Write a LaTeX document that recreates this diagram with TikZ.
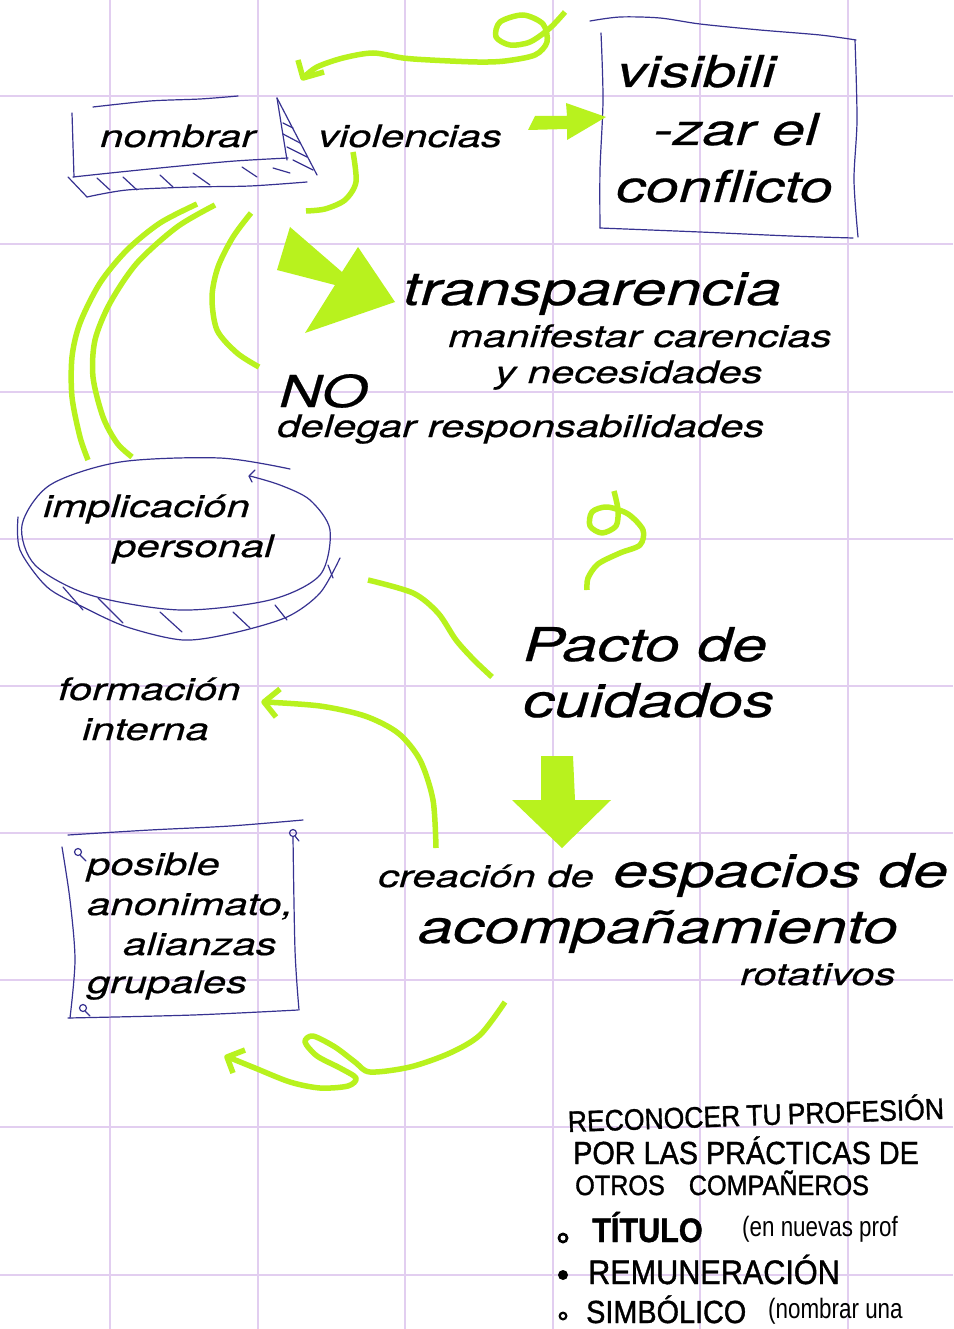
\documentclass[tikz,border=0pt]{standalone}
\usepackage{fontspec}
\newfontfamily\hv{TeX Gyre Heros}[FakeStretch=1.35, FakeBold=0.5]
\newfontfamily\hand{Liberation Sans}[FakeStretch=0.9, FakeBold=1.2]
\newfontfamily\handthin{Liberation Sans}[FakeStretch=0.8]
\definecolor{gridc}{RGB}{226,206,240}
\definecolor{limec}{RGB}{184,242,30}
\definecolor{penc}{RGB}{55,50,145}
\tikzset{
  gridline/.style={draw=gridc, line width=2pt},
  pen/.style={draw=penc, line width=1.2pt, line cap=round, line join=round},
  limeline/.style={draw=limec, line width=5.5pt, line cap=butt, line join=round},
  limefill/.style={fill=limec, draw=none},
  txt/.style={inner sep=0pt, anchor=base west, text=black, font=\hv\itshape\fontsize{31}{36}\selectfont},
  bigtxt/.style={txt, font=\hv\itshape\fontsize{46.5}{54}\selectfont},
  vistxt/.style={txt, font=\hv\itshape\fontsize{44}{52}\selectfont},
  hw/.style={inner sep=0pt, anchor=base west, text=black, font=\hand\fontsize{32}{36}\selectfont},
  hwsmall/.style={hw, font=\handthin\fontsize{28}{32}\selectfont},
}
\begin{document}
\begin{tikzpicture}[x=1pt, y=-1pt]
\useasboundingbox (0,0) rectangle (953,1329);
\fill[white] (0,0) rectangle (953,1329);
% grid
\foreach \gx in {110,257.5,405,552.5,700,847.5} \draw[gridline] (\gx,0) -- (\gx,1329);
\foreach \gy in {96.5,244,391.5,538.5,685.5,833,980,1127,1274.5} \draw[gridline] (0,\gy) -- (953,\gy);

% ---------- pen sketches ----------
% nombrar box
\draw[pen] plot[smooth] coordinates {(93,107) (150,101) (200,99) (238,96)};
\draw[pen] (72,113) -- (74,177);
\draw[pen] plot[smooth] coordinates {(73,177) (120,172) (180,166) (235,161) (288,158)};
\draw[pen] (277,98) -- (287,160);
\draw[pen] (277,98) -- (317,175);
\draw[pen] (283,123) -- (293,128) (283,134) -- (300,143) (287,147) -- (307,157) (293,160) -- (313,170);
\draw[pen] (68,177) -- (87,197);
\draw[pen] plot[smooth] coordinates {(87,197) (127,190) (193,187) (250,186) (307,182)};
\draw[pen] (97,178) -- (110,190) (123,177) -- (137,190) (160,175) -- (173,187) (193,173) -- (210,185) (242,167) -- (257,177) (273,168) -- (290,173);
% visibili box
\draw[pen] plot[smooth] coordinates {(590,21) (620,17) (660,18) (700,24) (760,30) (820,35) (856,40)};
\draw[pen] plot[smooth] coordinates {(601,33) (603,100) (600,170) (600,228)};
\draw[pen] plot[smooth] coordinates {(600,228) (700,232) (790,236) (853,238)};
\draw[pen] plot[smooth] coordinates {(855,40) (857,120) (854,180) (858,237)};
% implicacion ellipse
\draw[pen] plot[smooth] coordinates {(290,469) (220,458) (120,462) (50,485) (22,525) (35,565) (90,595) (180,610) (270,600) (320,575) (330,530) (310,500) (280,485) (250,476)};
\draw[pen] (255,470) -- (249,476) -- (252,482);
\draw[pen] plot[smooth] coordinates {(18,517) (20,550) (47,587) (83,607) (127,627) (183,640) (233,633) (287,617) (320,593) (340,558)};
\draw[pen] (63,587) -- (83,610) (98,598) -- (123,623) (160,612) -- (182,632) (233,612) -- (250,628) (275,605) -- (287,620) (328,565) -- (333,578);
% posible box
\draw[pen] plot[smooth] coordinates {(68,835) (150,830) (230,826) (303,820)};
\draw[pen] plot[smooth] coordinates {(62,847) (70,900) (75,960) (70,1018)};
\draw[pen] plot[smooth] coordinates {(68,1018) (193,1015) (298,1010)};
\draw[pen] plot[smooth] coordinates {(293,837) (295,950) (299,1010)};
\draw[pen] (78,852) circle (3.5) (293,833) circle (3.5) (83,1008) circle (3.5);
\draw[pen] (80,855) -- (86,861) (295,836) -- (299,841) (85,1011) -- (90,1016);

% ---------- lime shapes ----------
% top loop arrow
\draw[limeline] plot[smooth] coordinates {(565,12) (550,28) (530,42) (510,45) (496,37) (500,22) (523,15) (543,24) (547,42) (535,55) (505,61) (477,62) (430,60) (403,58) (373,53) (343,58) (317,67) (303,78)};
\draw[limeline] (298,60) -- (303,78) -- (324,72);
% hook under violencias
\draw[limeline] plot[smooth] coordinates {(353,152) (356,182) (345,200) (325,209) (306,211)};
% fat arrow to visibili
\fill[limefill] (535,116) -- (567,116) -- (566,103) -- (606,117) -- (567,140) -- (567,129) -- (528,130) -- cycle;
% fat arrow to transparencia
\fill[limefill] (290,227) -- (342,272) -- (358,247) -- (395,302) -- (305,333) -- (335,285) -- (277,270) -- cycle;
% three arcs
\draw[limeline] plot[smooth] coordinates {(197,204) (160,223) (127,250) (100,283) (80,323) (72,357) (72,397) (80,437) (88,460)};
\draw[limeline] plot[smooth] coordinates {(215,205) (177,227) (137,263) (110,303) (95,340) (93,377) (103,417) (117,443) (132,457)};
\draw[limeline] plot[smooth] coordinates {(251,213) (233,237) (218,267) (212,297) (217,330) (237,353) (259,367)};
% S curve
\draw[limeline] plot[smooth] coordinates {(368,580) (413,593) (438,613) (456,640) (474,660) (492,677)};
% squiggle
\draw[limeline] plot[smooth] coordinates {(614,491) (618,510) (616,526) (602,533) (590,526) (592,512) (607,507) (628,514) (643,530) (640,545) (620,553) (598,564) (588,578) (587,590)};
% down fat arrow
\fill[limefill] (541,756) -- (573,756) -- (575,800) -- (611,800) -- (562,848) -- (512,800) -- (541,800) -- cycle;
% curve arrow to formacion
\draw[limeline] plot[smooth] coordinates {(436,848) (433,800) (420,760) (398,733) (365,716) (320,706) (265,702)};
\draw[limeline] (280,689) -- (264,702) -- (276,717);
% bottom loop arrow
\draw[limeline] plot[smooth] coordinates {(505,1002) (480,1035) (450,1053) (410,1067) (370,1072) (355,1062) (335,1047) (313,1036) (305,1042) (317,1056) (340,1068) (356,1078) (348,1086) (320,1088) (290,1082) (255,1068) (228,1057)};
\draw[limeline] (245,1050) -- (227,1057) -- (233,1073);

% ---------- texts ----------
\node[txt] (nombrar) at (100,147) {nombrar};
\node[txt] (violencias) at (318,147) {violencias};
\node[vistxt] (vis1) at (617,87) {visibili};
\node[vistxt] (vis2) at (653,145) {-zar el};
\node[vistxt] (vis3) at (616,202) {conflicto};
\node[bigtxt] (transp) at (403,305) {transparencia};
\node[txt] (manif) at (448,347) {manifestar carencias};
\node[txt] (neces) at (495,383) {y necesidades};
\node[txt, font=\hv\itshape\fontsize{44}{52}\selectfont] (no) at (279,407) {NO};
\node[txt] (delegar) at (277,437) {delegar responsabilidades};
\node[txt] (impl) at (43,517) {implicación};
\node[txt] (pers) at (113,557) {personal};
\node[txt] (form) at (58,700) {formación};
\node[txt] (inter) at (82,740) {interna};
\node[bigtxt] (pacto) at (523,661) {Pacto de};
\node[bigtxt] (cuid) at (523,717) {cuidados};
\node[txt] (crea) at (378,887) {creación de};
\node[bigtxt] (esp) at (613,887) {espacios de};
\node[bigtxt] (acomp) at (418,943) {acompañamiento};
\node[txt] (rot) at (740,985) {rotativos};
\node[txt] (pos1) at (87,875) {posible};
\node[txt] (pos2) at (87,915) {anonimato,};
\node[txt] (pos3) at (123,955) {alianzas};
\node[txt] (pos4) at (87,993) {grupales};

% handwritten notes
\node[hw, rotate=2, font=\hand\fontsize{29.5}{34}\selectfont] (h1) at (568,1132) {RECONOCER\hspace{6pt}TU\hspace{6pt}PROFESIÓN};
\node[hw] (h2) at (573,1164) {POR LAS PRÁCTICAS DE};
\node[hw, font=\hand\fontsize{28}{32}\selectfont] (h3) at (575,1195) {OTROS\hspace{24pt}COMPAÑEROS};
\fill[black] (563,1238) circle (5.5);
\fill[white] (563,1238) circle (2.5);
\node[hw, font=\hand\bfseries\fontsize{34}{36}\selectfont] (h4) at (592,1242) {TÍTULO};
\node[hwsmall] (h4b) at (742,1236) {(en nuevas prof};
\fill[black] (563,1275) circle (5);
\node[hw, font=\hand\fontsize{34}{36}\selectfont] (h5) at (588,1284) {REMUNERACIÓN};
\fill[black] (563,1316) circle (4.5);
\fill[white] (563,1316) circle (2);
\node[hw] (h6) at (586,1323) {SIMBÓLICO};
\node[hwsmall] (h6b) at (768,1318) {(nombrar una};
\end{tikzpicture}
\end{document}
